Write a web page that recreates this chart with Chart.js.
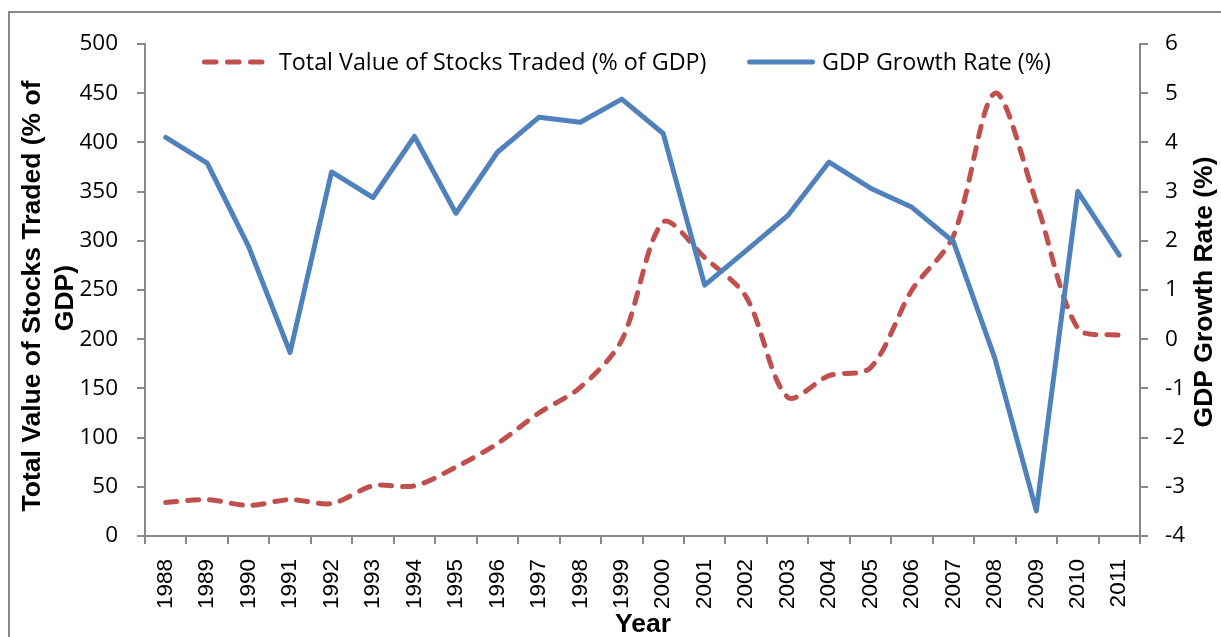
<!DOCTYPE html>
<html>
<head>
<meta charset="utf-8">
<script src="https://cdn.jsdelivr.net/npm/chart.js@4.4.1/dist/chart.umd.min.js"></script>
<style>
  html, body { margin: 0; padding: 0; background: #ffffff; }
  #wrap { position: relative; width: 1221px; height: 637px; overflow: hidden; }
  canvas { display: block; }
</style>
</head>
<body>
<div id="wrap"><canvas id="c" width="1221" height="637"></canvas></div>
<script>
// ---- Data ----
const years = ['1988','1989','1990','1991','1992','1993','1994','1995','1996','1997','1998','1999',
               '2000','2001','2002','2003','2004','2005','2006','2007','2008','2009','2010','2011'];
const stocksTraded = [34, 37, 31, 37, 33, 51, 51, 70, 94, 125, 151, 199,
                      319, 283, 243, 141, 163, 171, 250, 305, 450, 339, 211, 204];
const gdpGrowth = [4.10, 3.58, 1.88, -0.27, 3.40, 2.88, 4.12, 2.56, 3.80, 4.51, 4.41, 4.88,
                   4.18, 1.10, 1.80, 2.51, 3.60, 3.07, 2.68, 1.98, -0.39, -3.49, 3.00, 1.71];
const seriesNames = ['Total Value of Stocks Traded (% of GDP)', 'GDP Growth Rate (%)'];
const axisTitles = { left: ['Total Value of Stocks Traded (% of', 'GDP)'], right: 'GDP Growth Rate (%)', bottom: 'Year' };
const leftRange = { min: 0, max: 500, step: 50 };
const rightRange = { min: -4, max: 6, step: 1 };

// ---- Styles ----
const RED = '#C0504D';
const BLUE = '#4F81BD';
const AXIS = '#898989';
const LABEL_FONT = '"Open Sans", "Noto Sans", sans-serif';
const TITLE_FONT = '"Liberation Sans", Arial, sans-serif';

function narrowAvailable() {
  const cv = document.createElement('canvas').getContext('2d');
  cv.font = '40px monospace';
  const a = cv.measureText('1988 Year').width;
  cv.font = '40px "Liberation Sans Narrow", monospace';
  const b = cv.measureText('1988 Year').width;
  return Math.abs(a - b) > 0.5;
}
const xTickFont = narrowAvailable()
  ? { family: '"Liberation Sans Narrow"', size: 26 }
  : { family: '"Liberation Sans", Arial', size: 22.5 };

const decor = {
  id: 'decor',
  beforeDraw(chart) {
    const ctx = chart.ctx;
    ctx.save();
    ctx.fillStyle = '#ffffff';
    ctx.fillRect(0, 0, chart.width, chart.height);
    ctx.strokeStyle = AXIS;
    ctx.lineWidth = 2;
    ctx.strokeRect(9, 12, 1400, 800);
    ctx.restore();
  },
  afterDraw(chart) {
    const ctx = chart.ctx;
    ctx.save();
    const legY = 62;
    ctx.lineWidth = 5;
    ctx.lineCap = 'round';
    ctx.strokeStyle = RED;
    ctx.setLineDash([11.5, 11.5]);
    ctx.beginPath(); ctx.moveTo(204.5, legY); ctx.lineTo(262.5, legY); ctx.stroke();
    ctx.setLineDash([]);
    ctx.strokeStyle = BLUE;
    ctx.beginPath(); ctx.moveTo(749.5, legY); ctx.lineTo(812.5, legY); ctx.stroke();
    ctx.fillStyle = '#000';
    ctx.textBaseline = 'alphabetic';
    ctx.textAlign = 'left';
    ctx.font = '23.3px ' + LABEL_FONT;
    ctx.fillText(seriesNames[0], 279, 70);
    ctx.fillText(seriesNames[1], 822, 70);
    ctx.font = 'bold 26.5px ' + TITLE_FONT;
    ctx.textAlign = 'center';
    ctx.textBaseline = 'middle';
    ctx.save(); ctx.translate(33, 296); ctx.rotate(-Math.PI / 2); ctx.fillText(axisTitles.left[0], 0, 0); ctx.restore();
    ctx.save(); ctx.translate(66, 298); ctx.rotate(-Math.PI / 2); ctx.fillText(axisTitles.left[1], 0, 0); ctx.restore();
    ctx.save(); ctx.translate(1205, 292); ctx.rotate(-Math.PI / 2); ctx.fillText(axisTitles.right, 0, 0); ctx.restore();
    ctx.fillText(axisTitles.bottom, 643, 625);
    ctx.restore();
  }
};

const axisCommon = {
  grid: { display: true, drawOnChartArea: false, drawTicks: true, tickLength: 8, color: AXIS, lineWidth: 2 },
  border: { display: true, color: AXIS, width: 2 }
};

new Chart(document.getElementById('c'), {
  type: 'line',
  data: {
    labels: years,
    datasets: [
      {
        label: seriesNames[0], data: stocksTraded, yAxisID: 'y',
        borderColor: RED, borderWidth: 5, borderDash: [11, 11], borderCapStyle: 'round', borderJoinStyle: 'round',
        tension: 0.3, pointRadius: 0, pointHoverRadius: 0, fill: false, order: 2
      },
      {
        label: seriesNames[1], data: gdpGrowth, yAxisID: 'y1',
        borderColor: BLUE, borderWidth: 5, borderCapStyle: 'round', borderJoinStyle: 'round',
        tension: 0, pointRadius: 0, pointHoverRadius: 0, fill: false, order: 1
      }
    ]
  },
  options: {
    responsive: false, animation: false, devicePixelRatio: 1,
    layout: { padding: { top: 44, left: 0, right: 0, bottom: 0 } },
    plugins: { legend: { display: false }, tooltip: { enabled: false }, title: { display: false } },
    scales: {
      x: {
        type: 'category', offset: true,
        grid: Object.assign({}, axisCommon.grid, { offset: true }),
        border: axisCommon.border,
        ticks: { autoSkip: false, minRotation: 90, maxRotation: 90, padding: 15, color: '#000', font: xTickFont },
        afterFit(s) { s.height = 101; }
      },
      y: {
        position: 'left', min: leftRange.min, max: leftRange.max,
        grid: axisCommon.grid, border: axisCommon.border,
        ticks: { stepSize: leftRange.step, padding: 19, color: '#000', font: { family: LABEL_FONT, size: 22.5 } },
        afterFit(s) { s.width = 145; }
      },
      y1: {
        position: 'right', min: rightRange.min, max: rightRange.max,
        grid: axisCommon.grid, border: axisCommon.border,
        ticks: { stepSize: rightRange.step, padding: 17, color: '#000', font: { family: LABEL_FONT, size: 22.5 } },
        afterFit(s) { s.width = 81; }
      }
    }
  },
  plugins: [decor]
});
</script>
</body>
</html>
